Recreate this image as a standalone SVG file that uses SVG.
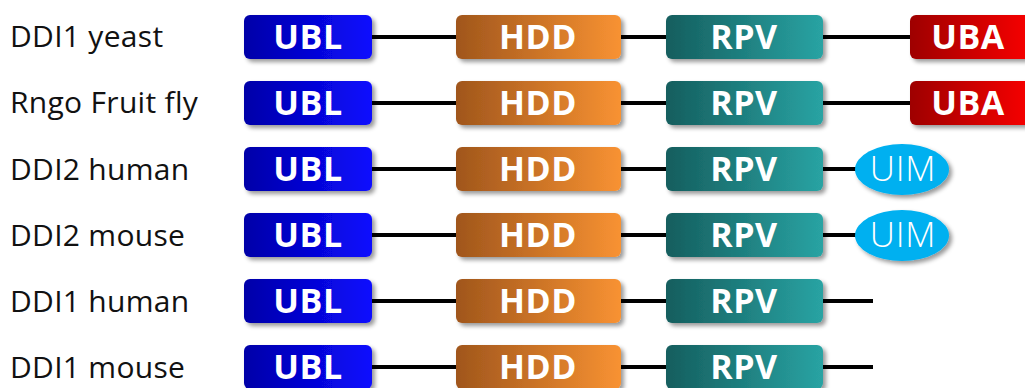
<svg xmlns="http://www.w3.org/2000/svg" width="1025" height="388" viewBox="0 0 1025 388">
<defs>
<linearGradient id="gUBL" x1="0" x2="1" y1="0" y2="0"><stop offset="0" stop-color="#0000a8"/><stop offset="1" stop-color="#0a0aff"/></linearGradient>
<linearGradient id="gHDD" x1="0" x2="1" y1="0" y2="0"><stop offset="0" stop-color="#a0561c"/><stop offset="1" stop-color="#f89232"/></linearGradient>
<linearGradient id="gRPV" x1="0" x2="1" y1="0" y2="0"><stop offset="0" stop-color="#155e5e"/><stop offset="1" stop-color="#29a3a3"/></linearGradient>
<linearGradient id="gUBA" x1="0" x2="1" y1="0" y2="0"><stop offset="0" stop-color="#9e0000"/><stop offset="1" stop-color="#ff0000"/></linearGradient>
<filter id="sh" x="-10%" y="-20%" width="125%" height="160%"><feDropShadow dx="3" dy="3" stdDeviation="2" flood-color="#000" flood-opacity="0.4"/></filter>
</defs>
<style>
.lbl{font-family:"Open Sans","Noto Sans",sans-serif;font-size:30px;letter-spacing:0.3px;fill:#111}
.dt{font-family:"Open Sans","Noto Sans",sans-serif;font-size:34px;font-weight:bold;letter-spacing:0.5px;fill:#fff;text-anchor:middle}
.uim{font-family:"Open Sans","Noto Sans",sans-serif;font-size:35px;font-weight:300;letter-spacing:0.8px;fill:#fff;text-anchor:middle}
.ln{stroke:#000;stroke-width:4;fill:none}
.box{filter:url(#sh)}
</style>
<g id="connectors">
<line class="ln" x1="372" y1="37" x2="910" y2="37"/>
<line class="ln" x1="372" y1="103" x2="910" y2="103"/>
<line class="ln" x1="372" y1="169" x2="858" y2="169"/>
<line class="ln" x1="372" y1="235" x2="858" y2="235"/>
<line class="ln" x1="372" y1="301" x2="873" y2="301"/>
<line class="ln" x1="372" y1="367" x2="873" y2="367"/>
</g>
<g id="labels">
<text class="lbl" x="10" y="47">DDI1 yeast</text>
<text class="lbl" x="10" y="113">Rngo Fruit fly</text>
<text class="lbl" x="10" y="180">DDI2 human</text>
<text class="lbl" x="10" y="246">DDI2 mouse</text>
<text class="lbl" x="10" y="312">DDI1 human</text>
<text class="lbl" x="10" y="378">DDI1 mouse</text>
</g>
<g id="row1">
<g id="ubl1"><rect class="box" x="244" y="15" width="128" height="44" rx="6" fill="url(#gUBL)"/><text class="dt" x="308" y="49">UBL</text></g>
<g id="hdd1"><rect class="box" x="456" y="15" width="165" height="44" rx="6" fill="url(#gHDD)"/><text class="dt" x="538" y="49">HDD</text></g>
<g id="rpv1"><rect class="box" x="666" y="15" width="157" height="44" rx="6" fill="url(#gRPV)"/><text class="dt" x="744" y="49">RPV</text></g>
<g id="uba1"><rect class="box" x="910" y="15" width="130" height="44" rx="6" fill="url(#gUBA)"/><text class="dt" x="968" y="49">UBA</text></g>
</g>
<g id="row2">
<g id="ubl2"><rect class="box" x="244" y="81" width="128" height="44" rx="6" fill="url(#gUBL)"/><text class="dt" x="308" y="115">UBL</text></g>
<g id="hdd2"><rect class="box" x="456" y="81" width="165" height="44" rx="6" fill="url(#gHDD)"/><text class="dt" x="538" y="115">HDD</text></g>
<g id="rpv2"><rect class="box" x="666" y="81" width="157" height="44" rx="6" fill="url(#gRPV)"/><text class="dt" x="744" y="115">RPV</text></g>
<g id="uba2"><rect class="box" x="910" y="81" width="130" height="44" rx="6" fill="url(#gUBA)"/><text class="dt" x="968" y="115">UBA</text></g>
</g>
<g id="row3">
<g id="ubl3"><rect class="box" x="244" y="147" width="128" height="44" rx="6" fill="url(#gUBL)"/><text class="dt" x="308" y="181">UBL</text></g>
<g id="hdd3"><rect class="box" x="456" y="147" width="165" height="44" rx="6" fill="url(#gHDD)"/><text class="dt" x="538" y="181">HDD</text></g>
<g id="rpv3"><rect class="box" x="666" y="147" width="157" height="44" rx="6" fill="url(#gRPV)"/><text class="dt" x="744" y="181">RPV</text></g>
<g id="uim3"><ellipse class="box" cx="902" cy="169.5" rx="47" ry="25.5" fill="#00b0f0"/><text class="uim" x="903" y="181">UIM</text></g>
</g>
<g id="row4">
<g id="ubl4"><rect class="box" x="244" y="213" width="128" height="44" rx="6" fill="url(#gUBL)"/><text class="dt" x="308" y="247">UBL</text></g>
<g id="hdd4"><rect class="box" x="456" y="213" width="165" height="44" rx="6" fill="url(#gHDD)"/><text class="dt" x="538" y="247">HDD</text></g>
<g id="rpv4"><rect class="box" x="666" y="213" width="157" height="44" rx="6" fill="url(#gRPV)"/><text class="dt" x="744" y="247">RPV</text></g>
<g id="uim4"><ellipse class="box" cx="902" cy="235.5" rx="47" ry="25.5" fill="#00b0f0"/><text class="uim" x="903" y="247">UIM</text></g>
</g>
<g id="row5">
<g id="ubl5"><rect class="box" x="244" y="279" width="128" height="44" rx="6" fill="url(#gUBL)"/><text class="dt" x="308" y="313">UBL</text></g>
<g id="hdd5"><rect class="box" x="456" y="279" width="165" height="44" rx="6" fill="url(#gHDD)"/><text class="dt" x="538" y="313">HDD</text></g>
<g id="rpv5"><rect class="box" x="666" y="279" width="157" height="44" rx="6" fill="url(#gRPV)"/><text class="dt" x="744" y="313">RPV</text></g>
</g>
<g id="row6">
<g id="ubl6"><rect class="box" x="244" y="345" width="128" height="44" rx="6" fill="url(#gUBL)"/><text class="dt" x="308" y="379">UBL</text></g>
<g id="hdd6"><rect class="box" x="456" y="345" width="165" height="44" rx="6" fill="url(#gHDD)"/><text class="dt" x="538" y="379">HDD</text></g>
<g id="rpv6"><rect class="box" x="666" y="345" width="157" height="44" rx="6" fill="url(#gRPV)"/><text class="dt" x="744" y="379">RPV</text></g>
</g>
</svg>
